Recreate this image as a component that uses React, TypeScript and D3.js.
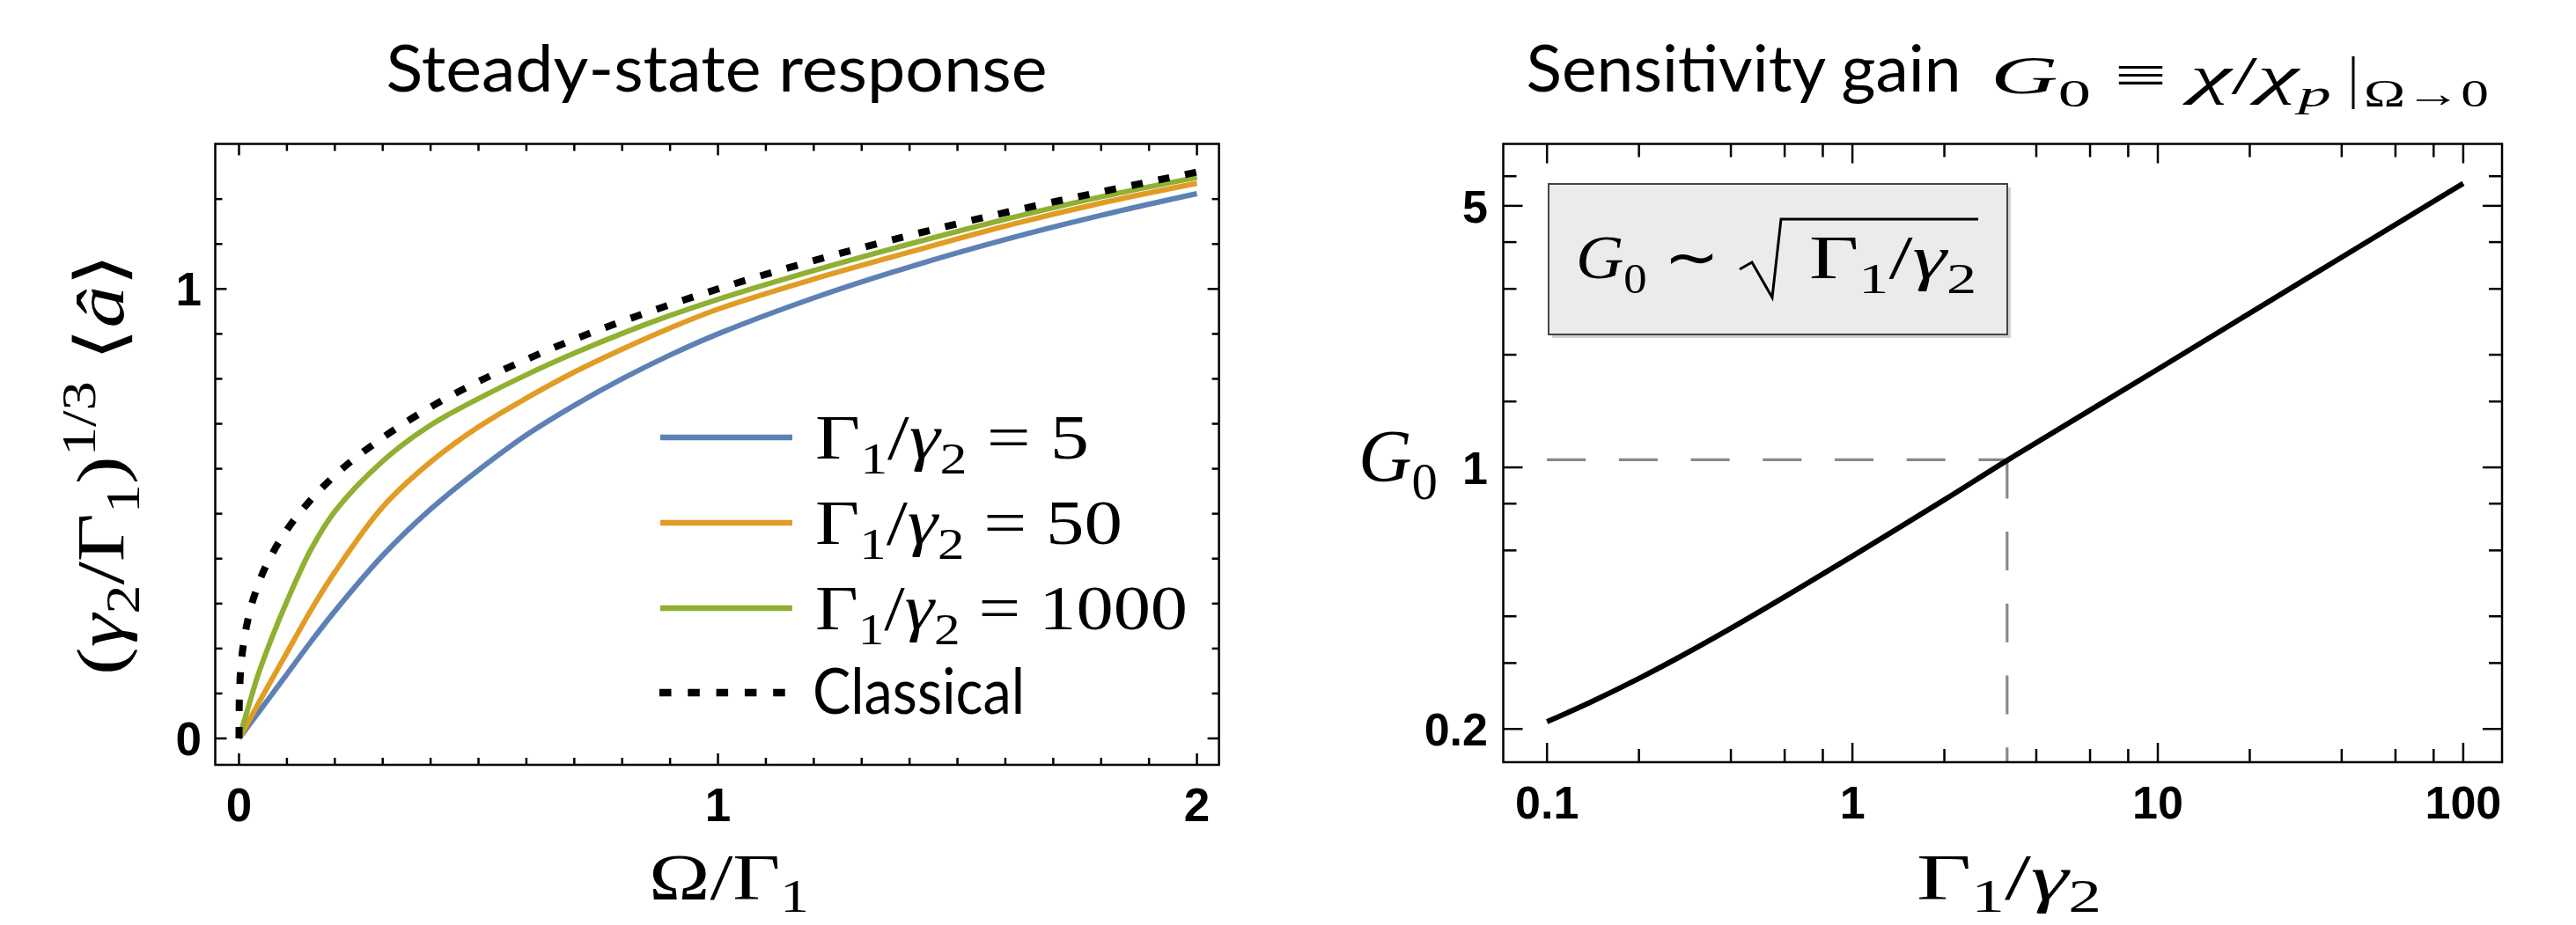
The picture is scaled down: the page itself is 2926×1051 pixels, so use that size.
import React from 'react';
import * as d3 from 'd3';

// ---------- Left panel data: Steady-state response ----------
const OMEGA = [0, 0.02, 0.04, 0.07, 0.1, 0.15, 0.2, 0.3, 0.4, 0.5, 0.6, 0.7, 0.8, 0.9, 1.0, 1.2, 1.4, 1.6, 1.8, 2.0];
const RESP_5 = [0, 0.0285, 0.057, 0.100, 0.143, 0.215, 0.283, 0.407, 0.510, 0.597, 0.675, 0.741, 0.800, 0.853, 0.900, 0.980, 1.049, 1.110, 1.164, 1.212];
const RESP_50 = [0, 0.038, 0.077, 0.134, 0.191, 0.285, 0.370, 0.515, 0.615, 0.693, 0.757, 0.815, 0.866, 0.913, 0.955, 1.022, 1.082, 1.140, 1.191, 1.235];
const RESP_1000 = [0, 0.072, 0.142, 0.228, 0.305, 0.420, 0.505, 0.617, 0.697, 0.756, 0.809, 0.857, 0.901, 0.941, 0.977, 1.041, 1.100, 1.155, 1.205, 1.248];
const CLASSICAL_X = [0, 0.0005, 0.002, 0.005, 0.01, 0.02, 0.04, 0.07, 0.1, 0.15, 0.2, 0.3, 0.4, 0.5, 0.6, 0.7, 0.8, 0.9, 1.0, 1.2, 1.4, 1.6, 1.8, 2.0];
const CLASSICAL_Y = [0, 0.079, 0.126, 0.171, 0.215, 0.271, 0.342, 0.412, 0.464, 0.531, 0.585, 0.669, 0.737, 0.794, 0.843, 0.888, 0.928, 0.965, 1.0, 1.063, 1.119, 1.170, 1.216, 1.260];
const LEGEND_VALUES = ['5', '50', '1000'];
const SERIES_COLORS = ['#5E81B5', '#E19C24', '#8FB032'];

const LEFT_X_MINOR = [0, 0.1, 0.2, 0.3, 0.4, 0.5, 0.6, 0.7, 0.8, 0.9, 1, 1.1, 1.2, 1.3, 1.4, 1.5, 1.6, 1.7, 1.8, 1.9, 2];
const LEFT_X_MAJOR = [0, 1, 2];
const LEFT_X_LABELS = ['0', '1', '2'];
const LEFT_Y_MINOR = [0, 0.1, 0.2, 0.3, 0.4, 0.5, 0.6, 0.7, 0.8, 0.9, 1, 1.1, 1.2];
const LEFT_Y_MAJOR = [0, 1];
const LEFT_Y_LABELS = ['0', '1'];

// ---------- Right panel data: Sensitivity gain ----------
const RATIO = [0.1, 0.14, 0.2, 0.27, 0.4, 0.6, 1, 2, 3.21, 10, 30, 100];
const GAIN = [0.209, 0.2366, 0.2729, 0.3105, 0.3715, 0.4508, 0.5794, 0.819, 1.044, 1.83, 3.16, 5.74];
const MARK_RATIO = 3.21;
const MARK_GAIN = 1.048;

const RIGHT_X_MAJOR = [0.1, 1, 10, 100];
const RIGHT_X_LABELS = ['0.1', '1', '10', '100'];
const RIGHT_X_MINOR = [0.2, 0.4, 0.6, 0.8, 2, 4, 6, 8, 20, 40, 60, 80];
const RIGHT_Y_MAJOR = [0.2, 1, 5];
const RIGHT_Y_LABELS = ['0.2', '1', '5'];
const RIGHT_Y_MINOR = [0.3, 0.4, 0.6, 0.8, 1.5, 2, 3, 4, 6];

type Piece = { t: string; it?: boolean; pos?: 'sub' | 'sup' };

function MathText(props: {
  x?: number; y?: number; size: number; pieces: Piece[]; anchor?: string;
  len?: number; transform?: string; family?: string; subShift?: number;
}) {
  const { x = 0, y = 0, size, pieces, anchor = 'start', len, transform, family = 'Liberation Serif', subShift = 0.24 } = props;
  let cur = 0;
  const spans = pieces.map((p, i) => {
    const target = p.pos === 'sub' ? subShift * size : p.pos === 'sup' ? -0.42 * size : 0;
    const dy = target - cur;
    cur = target;
    return (
      <tspan key={i} dy={dy} fontStyle={p.it ? 'italic' : 'normal'} fontSize={p.pos ? size * 0.7 : size}>
        {p.t}
      </tspan>
    );
  });
  return (
    <text x={x} y={y} fontSize={size} fontFamily={family} textAnchor={anchor as any}
      textLength={len} lengthAdjust="spacingAndGlyphs" transform={transform}
      style={{ whiteSpace: 'pre' }} fill="#000">
      {spans}
    </text>
  );
}

export default function App() {
  const lx = d3.scaleLinear().domain([-0.0496, 2.046]).range([244.5, 1384.6]);
  const ly = d3.scaleLinear().domain([-0.0587, 1.3227]).range([869, 163.5]);
  const rx = d3.scaleLog().domain([0.0719, 134]).range([1707.5, 2842]);
  const ry = d3.scaleLog().domain([0.163, 7.32]).range([866, 163.5]);

  const lineL = d3.line<[number, number]>().x(d => lx(d[0])).y(d => ly(d[1])).curve(d3.curveCatmullRom.alpha(0.5));
  const lineC = d3.line<[number, number]>().x(d => lx(d[0])).y(d => ly(d[1])).curve(d3.curveMonotoneX);
  const lineR = d3.line<[number, number]>().x(d => rx(d[0])).y(d => ry(d[1])).curve(d3.curveCatmullRom.alpha(0.5));

  const series = [RESP_5, RESP_50, RESP_1000];
  const classical = CLASSICAL_X.map((x, i) => [x, CLASSICAL_Y[i]] as [number, number]);
  const gainPts = RATIO.map((x, i) => [x, GAIN[i]] as [number, number]);

  const [lx0, lx1] = lx.range();
  const [ly0, ly1] = ly.range(); // bottom, top
  const [rx0, rx1] = rx.range();
  const [ry0, ry1] = ry.range();

  const tickStroke = { stroke: '#000', strokeWidth: 2.5 };

  const legendY = [497, 594, 691];
  const legendLens = [311, 349, 423];

  return (
    <svg width={2926} height={1051} style={{ position: 'absolute', left: 0, top: 0, background: '#fff' }}>
      <rect x={0} y={0} width={2926} height={1051} fill="#fff" />

      {/* ================= LEFT PANEL ================= */}
      <text x={814} y={104} fontFamily="Lato" fontSize={74} textAnchor="middle" textLength={751}
        lengthAdjust="spacingAndGlyphs">Steady-state response</text>

      {/* curves */}
      {series.map((s, k) => (
        <path key={k} d={lineL(OMEGA.map((x, i) => [x, s[i]] as [number, number])) || ''}
          fill="none" stroke={SERIES_COLORS[k]} strokeWidth={6} />
      ))}
      <path d={lineC(classical) || ''} fill="none" stroke="#000" strokeWidth={8} strokeDasharray="13 18" />

      {/* frame */}
      <rect x={lx0} y={ly1} width={lx1 - lx0} height={ly0 - ly1} fill="none" stroke="#000" strokeWidth={2.5} />
      {LEFT_X_MINOR.map((t, i) => {
        const L = LEFT_X_MAJOR.includes(t) ? 13 : 8;
        return (
          <g key={'lxt' + i}>
            <line x1={lx(t)} x2={lx(t)} y1={ly0} y2={ly0 - L} {...tickStroke} />
            <line x1={lx(t)} x2={lx(t)} y1={ly1} y2={ly1 + L} {...tickStroke} />
          </g>
        );
      })}
      {LEFT_Y_MINOR.map((t, i) => {
        const L = LEFT_Y_MAJOR.includes(t) ? 13 : 8;
        return (
          <g key={'lyt' + i}>
            <line x1={lx0} x2={lx0 + L} y1={ly(t)} y2={ly(t)} {...tickStroke} />
            <line x1={lx1} x2={lx1 - L} y1={ly(t)} y2={ly(t)} {...tickStroke} />
          </g>
        );
      })}
      {LEFT_X_MAJOR.map((t, i) => (
        <text key={'lxl' + i} x={lx(t)} y={933} fontFamily="Liberation Sans" fontWeight="bold" fontSize={53}
          textAnchor="middle">{LEFT_X_LABELS[i]}</text>
      ))}
      {LEFT_Y_MAJOR.map((t, i) => (
        <text key={'lyl' + i} x={229} y={ly(t) + 19} fontFamily="Liberation Sans" fontWeight="bold" fontSize={53}
          textAnchor="end">{LEFT_Y_LABELS[i]}</text>
      ))}

      {/* axis labels */}
      <MathText x={828} y={1022} size={75} anchor="middle" len={182} subShift={0.18}
        pieces={[{ t: 'Ω' }, { t: '/' }, { t: 'Γ' }, { t: '1', pos: 'sub' }]} />
      <MathText size={77} anchor="middle" len={479} transform="translate(140,527.5) rotate(-90)"
        pieces={[
          { t: '(' }, { t: 'γ', it: true }, { t: '2', pos: 'sub' }, { t: '/' }, { t: 'Γ' }, { t: '1', pos: 'sub' },
          { t: ')' }, { t: '1/3', pos: 'sup' }, { t: ' ⟨' }, { t: 'â', it: true }, { t: '⟩' },
        ]} />

      {/* legend */}
      {LEGEND_VALUES.map((v, k) => (
        <g key={'leg' + k}>
          <line x1={750} x2={900} y1={legendY[k]} y2={legendY[k]} stroke={SERIES_COLORS[k]} strokeWidth={6.5} />
          <MathText x={926} y={legendY[k] + 24} size={72} len={legendLens[k]}
            pieces={[{ t: 'Γ' }, { t: '1', pos: 'sub' }, { t: '/' }, { t: 'γ', it: true }, { t: '2', pos: 'sub' }, { t: ' = ' + v }]} />
        </g>
      ))}
      <line x1={749} x2={900} y1={787} y2={787} stroke="#000" strokeWidth={8.5} strokeDasharray="13.5 18.8" />
      <text x={923} y={811} fontFamily="Lato" fontSize={72} textLength={241} lengthAdjust="spacingAndGlyphs">Classical</text>

      {/* ================= RIGHT PANEL ================= */}
      <text x={1733.6} y={104} fontFamily="Lato" fontSize={74} textLength={494}
        lengthAdjust="spacingAndGlyphs">Sensitivity gain</text>
      <MathText x={2261} y={106} size={62} len={387}
        pieces={[{ t: 'G', it: true }, { t: '0', pos: 'sub' }, { t: ' ≡ ' }, { t: 'χ', it: true }, { t: '/' },
          { t: 'χ', it: true }, { t: 'p', it: true, pos: 'sub' }]} />
      <line x1={2673} x2={2673} y1={64} y2={124} stroke="#000" strokeWidth={3} />
      <MathText x={2685} y={121} size={44} len={142} pieces={[{ t: 'Ω→0' }]} />

      {/* dashed guide */}
      <path d={`M${rx(0.1)},${ry(MARK_GAIN)}L${rx(MARK_RATIO)},${ry(MARK_GAIN)}`} fill="none" stroke="#888"
        strokeWidth={3.2} strokeDasharray="44 37.7" />
      <path d={`M${rx(MARK_RATIO)},${ry(MARK_GAIN)}L${rx(MARK_RATIO)},${ry0}`} fill="none" stroke="#888"
        strokeWidth={3.2} strokeDasharray="44 37.7" />

      {/* curve */}
      <path d={lineR(gainPts) || ''} fill="none" stroke="#000" strokeWidth={6} />

      {/* frame */}
      <rect x={rx0} y={ry1} width={rx1 - rx0} height={ry0 - ry1} fill="none" stroke="#000" strokeWidth={2.5} />
      {[...RIGHT_X_MAJOR, ...RIGHT_X_MINOR].map((t, i) => {
        const L = RIGHT_X_MAJOR.includes(t) ? 22 : 15;
        return (
          <g key={'rxt' + i}>
            <line x1={rx(t)} x2={rx(t)} y1={ry0} y2={ry0 - L} {...tickStroke} />
            <line x1={rx(t)} x2={rx(t)} y1={ry1} y2={ry1 + L} {...tickStroke} />
          </g>
        );
      })}
      {[...RIGHT_Y_MAJOR, ...RIGHT_Y_MINOR].map((t, i) => {
        const L = RIGHT_Y_MAJOR.includes(t) ? 22 : 15;
        return (
          <g key={'ryt' + i}>
            <line x1={rx0} x2={rx0 + L} y1={ry(t)} y2={ry(t)} {...tickStroke} />
            <line x1={rx1} x2={rx1 - L} y1={ry(t)} y2={ry(t)} {...tickStroke} />
          </g>
        );
      })}
      {RIGHT_X_MAJOR.map((t, i) => (
        <text key={'rxl' + i} x={rx(t)} y={930} fontFamily="Liberation Sans" fontWeight="bold" fontSize={52}
          textAnchor="middle">{RIGHT_X_LABELS[i]}</text>
      ))}
      {RIGHT_Y_MAJOR.map((t, i) => (
        <text key={'ryl' + i} x={1690} y={ry(t) + 19} fontFamily="Liberation Sans" fontWeight="bold" fontSize={52}
          textAnchor="end">{RIGHT_Y_LABELS[i]}</text>
      ))}

      {/* inset box */}
      <rect x={1763} y={213} width={521} height={171} fill="#999" opacity={0.45} />
      <rect x={1759} y={209} width={521} height={171} fill="#EBEBEB" stroke="#444" strokeWidth={2} />
      <MathText x={1790} y={316} size={70} len={163}
        pieces={[{ t: 'G', it: true }, { t: '0', pos: 'sub' }, { t: ' ∼' }]} />
      <path d="M1976,306 L1990,298 L2013,338 L2023,249 L2247,249" fill="none" stroke="#000" strokeWidth={3} />
      <MathText x={2055} y={316} size={70} len={190}
        pieces={[{ t: 'Γ' }, { t: '1', pos: 'sub' }, { t: '/' }, { t: 'γ', it: true }, { t: '2', pos: 'sub' }]} />

      {/* axis labels */}
      <MathText x={2282} y={1022} size={75} anchor="middle" len={210} subShift={0.18}
        pieces={[{ t: 'Γ' }, { t: '1', pos: 'sub' }, { t: '/' }, { t: 'γ', it: true }, { t: '2', pos: 'sub' }]} />
      <MathText x={1543} y={547} size={84} len={90} pieces={[{ t: 'G', it: true }, { t: '0', pos: 'sub' }]} />
    </svg>
  );
}
